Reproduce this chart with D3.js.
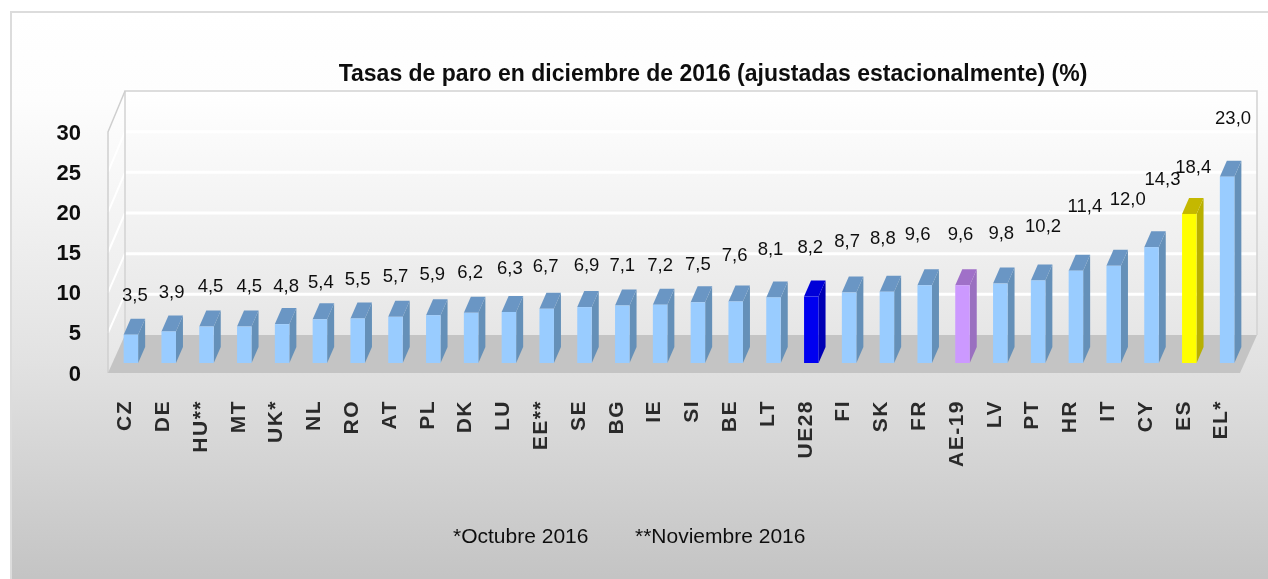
<!DOCTYPE html>
<html>
<head>
<meta charset="utf-8">
<script src="https://cdn.jsdelivr.net/npm/d3@7"></script>
<style>
  html, body { margin: 0; padding: 0; background: #fff; overflow: hidden; }
  svg { display: block; }
  text { font-family: "Liberation Sans", Arial, sans-serif; fill: #111; }
  .domain { display: none; }
</style>
</head>
<body>
<svg width="1268" height="579"></svg>
<script>
const categories = ['CZ', 'DE', 'HU**', 'MT', 'UK*', 'NL', 'RO', 'AT', 'PL', 'DK', 'LU', 'EE**', 'SE', 'BG', 'IE', 'SI', 'BE', 'LT', 'UE28', 'FI', 'SK', 'FR', 'AE-19', 'LV', 'PT', 'HR', 'IT', 'CY', 'ES', 'EL*'];
const values = [3.5, 3.9, 4.5, 4.5, 4.8, 5.4, 5.5, 5.7, 5.9, 6.2, 6.3, 6.7, 6.9, 7.1, 7.2, 7.5, 7.6, 8.1, 8.2, 8.7, 8.8, 9.6, 9.6, 9.8, 10.2, 11.4, 12.0, 14.3, 18.4, 23.0];
const yTicks = [0, 5, 10, 15, 20, 25, 30];
const footnotes = ['*Octubre 2016', '**Noviembre 2016'];

// the data labels were dragged around by hand in the original
const labelShiftX = [4, 3, 4, 5, 4, 1, 0, 0, -1, -1, 1, -1, 2, 0, 0, 0, -1, -3, -1, -2, -4, -7, -2, 1, 5, 9, 14, 11, 4, 6];
const labelShiftY = [-24, -24, -25, -25, -23, -22, -24, -25, -26, -25, -28, -27, -27, -25, -24, -23, -31, -33, -34, -36, -38, -36, -36, -35, -39, -49, -51, -53, -31, -43];

const barColors = {
  'UE28': { front: '#0000f0', top: '#0000d8', side: '#0000b4' },
  'AE-19': { front: '#cc99ff', top: '#a070c8', side: '#9a70c0' },
  'ES': { front: '#ffff00', top: '#c4b800', side: '#b8b000' }
};
const defaultColors = { front: '#99ccff', top: '#6a96c4', side: '#6590b8' };

const BAR_WIDTH = 14.5;
const BAR_DEPTH_X = 7;
const BAR_DEPTH_Y = 16;

const svg = d3.select('svg');

const x = d3.scaleBand().domain(categories).range([112, 1246]);
const yBar = d3.scaleLinear().domain([0, 30]).range([363, 120]);
const yFront = d3.scaleLinear().domain([0, 30]).range([373, 132]);
const yBack = d3.scaleLinear().domain([0, 30]).range([335, 91]);

const wall = { frontLeft: 108, backLeft: 125, backRight: 1257, frontRight: 1240 };

const defs = svg.append('defs');

const addGradient = (id, stops) => {
  const gradient = defs.append('linearGradient')
    .attr('id', id)
    .attr('x1', 0).attr('y1', 0).attr('x2', 0).attr('y2', 1);

  stops.forEach(([offset, color]) => {
    gradient.append('stop').attr('offset', offset).attr('stop-color', color);
  });
};

addGradient('panelFill', [[0, '#ffffff'], [0.15, '#fdfdfd'], [0.6, '#e2e2e2'], [1, '#c2c2c2']]);
addGradient('wallFill', [[0, '#ffffff'], [1, '#e6e6e6']]);

defs.append('filter').attr('id', 'soft')
  .append('feGaussianBlur').attr('stdDeviation', 0.4);

const root = svg.append('g').attr('filter', 'url(#soft)');

// panel
root.append('rect')
  .attr('x', 11).attr('y', 12)
  .attr('width', 1270).attr('height', 580)
  .attr('fill', 'url(#panelFill)')
  .attr('stroke', '#dcdcdc')
  .attr('stroke-width', 2);

// walls and floor
const polygon = points => points.map(p => p.join(',')).join(' ');

root.append('polygon')
  .attr('points', polygon([[wall.backLeft, yBack(30)], [wall.backRight, yBack(30)], [wall.backRight, yBack(0)], [wall.backLeft, yBack(0)]]))
  .attr('fill', 'url(#wallFill)');

root.append('polygon')
  .attr('points', polygon([[wall.frontLeft, yFront(30)], [wall.backLeft, yBack(30)], [wall.backLeft, yBack(0)], [wall.frontLeft, yFront(0)]]))
  .attr('fill', 'url(#wallFill)');

root.append('g')
  .selectAll('g')
  .data(yTicks.filter(d => d > 0))
  .join('g')
  .call(g => g.append('line')
    .attr('x1', wall.backLeft).attr('x2', wall.backRight)
    .attr('y1', d => yBack(d)).attr('y2', d => yBack(d))
    .attr('stroke', '#fff').attr('stroke-width', 3))
  .call(g => g.append('line')
    .attr('x1', wall.frontLeft).attr('x2', wall.backLeft)
    .attr('y1', d => yFront(d)).attr('y2', d => yBack(d))
    .attr('stroke', '#fff').attr('stroke-width', 2));

root.append('polyline')
  .attr('points', polygon([[wall.backLeft, yBack(0)], [wall.backLeft, yBack(30)], [wall.backRight, yBack(30)], [wall.backRight, yBack(0)]]))
  .attr('fill', 'none').attr('stroke', '#d2d2d2').attr('stroke-width', 1.5);

root.append('polyline')
  .attr('points', polygon([[wall.backLeft, yBack(30)], [wall.frontLeft, yFront(30)], [wall.frontLeft, yFront(0)]]))
  .attr('fill', 'none').attr('stroke', '#cfcfcf').attr('stroke-width', 1.5);

root.append('polygon')
  .attr('points', polygon([[wall.frontLeft, yFront(0)], [wall.backLeft, yBack(0)], [wall.backRight, yBack(0)], [wall.frontRight, yFront(0)]]))
  .attr('fill', '#c4c4c4');

// bars
const data = categories.map((name, i) => ({ name, value: values[i], i }));
const barLeft = d => x(d.name) + (x.bandwidth() - BAR_WIDTH) / 2;
const colorsOf = d => barColors[d.name] || defaultColors;

const bars = root.append('g')
  .selectAll('g')
  .data(data)
  .join('g');

bars.append('polygon')
  .attr('fill', d => colorsOf(d).side)
  .attr('points', d => {
    const right = barLeft(d) + BAR_WIDTH;

    return polygon([
      [right, yBar(d.value)],
      [right + BAR_DEPTH_X, yBar(d.value) - BAR_DEPTH_Y],
      [right + BAR_DEPTH_X, yBar(0) - BAR_DEPTH_Y],
      [right, yBar(0)]
    ]);
  });

bars.append('polygon')
  .attr('fill', d => colorsOf(d).top)
  .attr('points', d => {
    const left = barLeft(d);
    const top = yBar(d.value);

    return polygon([
      [left, top],
      [left + BAR_DEPTH_X, top - BAR_DEPTH_Y],
      [left + BAR_WIDTH + BAR_DEPTH_X, top - BAR_DEPTH_Y],
      [left + BAR_WIDTH, top]
    ]);
  });

bars.append('rect')
  .attr('fill', d => colorsOf(d).front)
  .attr('x', barLeft)
  .attr('y', d => yBar(d.value))
  .attr('width', BAR_WIDTH)
  .attr('height', d => yBar(0) - yBar(d.value));

// data labels
root.append('g')
  .selectAll('text')
  .data(data)
  .join('text')
  .attr('x', d => barLeft(d) + BAR_WIDTH / 2 + labelShiftX[d.i])
  .attr('y', d => yBar(d.value) - BAR_DEPTH_Y + labelShiftY[d.i])
  .attr('dy', '.35em')
  .attr('text-anchor', 'middle')
  .style('font-size', '18.5px')
  .text(d => d.value.toFixed(1).replace('.', ','));

// axes
const yAxis = root.append('g')
  .attr('transform', 'translate(81,0)')
  .call(d3.axisLeft(yFront).tickValues(yTicks).tickSize(0).tickPadding(0));

yAxis.selectAll('text')
  .style('font-size', '22px')
  .style('font-weight', 'bold')
  .style('font-family', '"Liberation Sans", Arial, sans-serif');

const xAxis = root.append('g')
  .attr('transform', 'translate(-7,386)')
  .call(d3.axisBottom(x).tickSize(0).tickPadding(0));

xAxis.selectAll('text')
  .attr('transform', 'rotate(-90)')
  .attr('x', -14)
  .attr('y', 0)
  .attr('dy', '.35em')
  .attr('text-anchor', 'end')
  .style('font-size', '21px')
  .style('letter-spacing', '1.5px')
  .style('font-weight', 'bold')
  .style('fill', '#2a2a2a')
  .style('font-family', '"Liberation Sans", Arial, sans-serif');

// title and footnotes
root.append('text')
  .attr('x', 713).attr('y', 81)
  .attr('text-anchor', 'middle')
  .style('font-size', '23px')
  .style('font-weight', 'bold')
  .text('Tasas de paro en diciembre de 2016 (ajustadas estacionalmente) (%)');

root.append('g')
  .selectAll('text')
  .data(footnotes)
  .join('text')
  .attr('x', (d, i) => i === 0 ? 453 : 635)
  .attr('y', 543)
  .style('font-size', '21px')
  .text(d => d);
</script>
</body>
</html>
